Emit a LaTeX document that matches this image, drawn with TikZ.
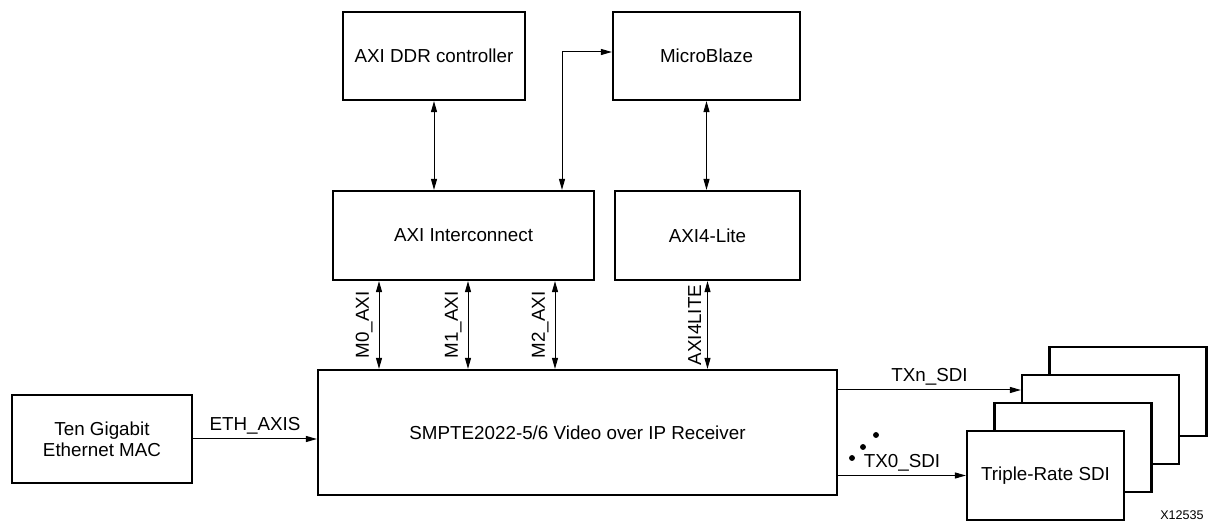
\documentclass[tikz,border=0pt]{standalone}
\usepackage{fontspec}
\setmainfont{Liberation Sans}
\usetikzlibrary{arrows.meta}
\tikzstyle{block}=[draw=black,fill=white,line width=1.1pt,
                   inner sep=0pt,align=center]
\tikzstyle{link}=[line width=0.5pt,
                  {Triangle[length=5.5pt,width=3pt]}-{Triangle[length=5.5pt,width=3pt]}]
\tikzstyle{arrowto}=[line width=0.5pt,-{Triangle[length=5.5pt,width=3pt]}]
\tikzstyle{vlabel}=[midway,rotate=90,anchor=south,inner sep=3pt]
\tikzstyle{dotmark}=[circle,draw=black,fill=black,
                     inner sep=0pt,minimum size=2.5pt]
\begin{document}
\begin{tikzpicture}[x=0.5pt,y=-0.5pt,font=\fontsize{9.4}{10.5}\selectfont]
    \useasboundingbox (0,0) rectangle (1210,523);
    % top row
    \node (ddr) at (434,56) [block,minimum width=91pt,minimum height=44pt]{AXI DDR controller};
    \node (mb) at (706.5,56) [block,minimum width=93.5pt,minimum height=44pt]{MicroBlaze};
    % middle row
    \node (ic) at (463.5,235.5) [block,minimum width=130.5pt,minimum height=44.5pt]{AXI Interconnect};
    \node (lite) at (707.5,235.5) [block,minimum width=92.5pt,minimum height=44.5pt]{AXI4-Lite};
    % receiver and MAC
    \node (rx) at (577.5,432.5) [block,minimum width=259.5pt,minimum height=62.5pt]{SMPTE2022-5/6 Video over IP Receiver};
    \node (mac) at (102,439) [block,minimum width=90pt,minimum height=44pt]{Ten Gigabit\\Ethernet MAC};
    % SDI stack, back to front
    \foreach \i/\dx/\dy in {4/82.5/-84,3/55/-56,2/27.5/-28}
      \node (sdi\i) at (1045.5+\dx,475.5+\dy) [block,minimum width=78.5pt,minimum height=44.5pt]{};
    \node (sdi1) at (1045.5,475.5) [block,minimum width=78.5pt,minimum height=44.5pt]{Triple-Rate SDI};

    \coordinate (bend) at (562,52);
    \draw[link] (ddr.south) -- (ddr.south |- ic.north);
    \draw[link] (ic.north -| bend) |- (mb.west |- bend);
    \draw[link] (mb.south) -- (mb.south |- lite.north);
    \foreach \nm/\xx/\txt in {m0/379/M0\_AXI,m1/468/M1\_AXI,m2/555/M2\_AXI}{
      \coordinate (\nm) at (\xx,325);
      \draw[link] (ic.south -| \nm) -- node[vlabel]{\txt} (rx.north -| \nm);
    }
    \draw[link] (lite.south) -- node[vlabel]{AXI4LITE} (lite.south |- rx.north);

    \coordinate (txn) at (900,390);
    \draw[arrowto] (mac.east) -- node[above,inner sep=2pt]{ETH\_AXIS} (rx.west |- mac.east);
    \draw[arrowto] (rx.east |- txn) -- node[above,inner sep=2pt]{TXn\_SDI} (sdi3.west |- txn);
    \draw[arrowto] (rx.east |- sdi1.west) -- node[above,inner sep=2pt]{TX0\_SDI} (sdi1.west);
    \node (d1) at (852,458) [dotmark]{};
    \node (d2) at (863,447) [dotmark]{};
    \node (d3) at (876,435) [dotmark]{};

    \node (fig) at (1182,515) [font=\fontsize{6.3}{7}\selectfont]{X12535};
\end{tikzpicture}
\end{document}
